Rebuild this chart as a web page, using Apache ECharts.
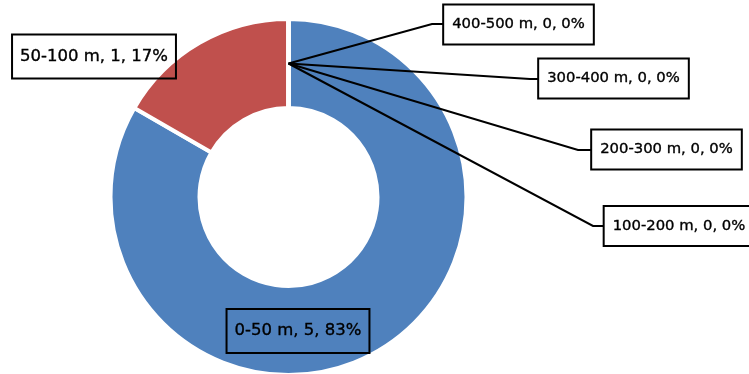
<!DOCTYPE html>
<html>
<head>
<meta charset="utf-8">
<script src="https://cdn.jsdelivr.net/npm/echarts@6/dist/echarts.min.js"></script>
<style>
  html, body { margin: 0; padding: 0; background: #ffffff; }
  #chart { width: 749px; height: 374px; }
</style>
</head>
<body>
<div id="chart"></div>
<script>
// Distance bands and the number of sites in each
const categories = ['0-50 m', '50-100 m', '100-200 m', '200-300 m', '300-400 m', '400-500 m'];
const counts = [5, 1, 0, 0, 0, 0];
const sliceColors = ['#4F81BD', '#C0504D', '#9BBB59', '#8064A2', '#4BACC6', '#F79646'];

// Ring geometry
const CX = 288.5, CY = 197, R_IN = 89, R_OUT = 178;

// Where each label box sits (centre), and the elbow of its leader line
const labelPlacement = [
  { x: 298, y: 331, size: 16.5, pad: [14, 8, 13, 8] },
  { x: 94, y: 56.5, size: 16.5, pad: [14, 8, 13, 8] },
  { x: 679, y: 226, size: 14.8, pad: [13, 9, 12, 9], elbow: [[593, 226], [603, 226]] },
  { x: 666.5, y: 149.5, size: 14.8, pad: [13, 9, 12, 9], elbow: [[578, 150], [591, 150]] },
  { x: 613.5, y: 78.5, size: 14.8, pad: [13, 9, 12, 9], elbow: [[530, 79], [538, 79]] },
  { x: 518.5, y: 24.5, size: 14.8, pad: [13, 9, 12, 9], elbow: [[432, 24], [443, 24]] }
];

const chart = echarts.init(document.getElementById('chart'), null, { renderer: 'canvas' });

// Leader lines start in the middle of the ring at 12 o'clock, where the empty bands sit
const midR = (R_IN + R_OUT) / 2;
const startPoint = [CX, CY - midR];

const baseLabel = {
  fontFamily: 'DejaVu Sans',
  color: '#000000',
  textBorderColor: '#000000',
  textBorderWidth: 0.35,
  borderColor: '#000000',
  borderWidth: 2,
  formatter: p => `${p.name}, ${p.value}, ${Math.round(p.percent)}%`
};

function placeLabel(params) {
  const pl = labelPlacement[params.dataIndex];
  const out = { x: pl.x, y: pl.y, align: 'center', verticalAlign: 'middle' };
  if (pl.elbow) out.labelLinePoints = [startPoint, pl.elbow[0], pl.elbow[1]];
  return out;
}

// Ring slices, labelled where the band holds sites
const sliceData = categories.map((name, i) => ({
  name: name,
  value: counts[i],
  itemStyle: { color: sliceColors[i] },
  label: { show: counts[i] > 0, fontSize: labelPlacement[i].size, padding: labelPlacement[i].pad },
  labelLine: { show: false }
}));

// Transparent copy drawn on top, carrying the labels and leader lines of empty bands
const overlayData = categories.map((name, i) => ({
  name: name,
  value: counts[i],
  label: { show: counts[i] === 0, fontSize: labelPlacement[i].size, padding: labelPlacement[i].pad },
  labelLine: { show: counts[i] === 0 }
}));

const common = {
  type: 'pie',
  center: [CX, CY],
  radius: [R_IN, R_OUT],
  startAngle: 90,
  clockwise: true,
  avoidLabelOverlap: false,
  silent: true,
  emphasis: { disabled: true },
  labelLayout: placeLabel
};

chart.setOption({
  animation: false,
  backgroundColor: '#ffffff',
  series: [
    Object.assign({}, common, {
      z: 2,
      itemStyle: { borderColor: '#ffffff', borderWidth: 4 },
      label: Object.assign({ show: true, position: 'outside' }, baseLabel),
      data: sliceData
    }),
    Object.assign({}, common, {
      z: 5,
      itemStyle: { color: 'rgba(0,0,0,0)', borderWidth: 0 },
      label: Object.assign({ show: true, position: 'outside' }, baseLabel),
      labelLine: { show: true, lineStyle: { color: '#000000', width: 2 } },
      data: overlayData
    })
  ]
});
</script>
</body>
</html>
